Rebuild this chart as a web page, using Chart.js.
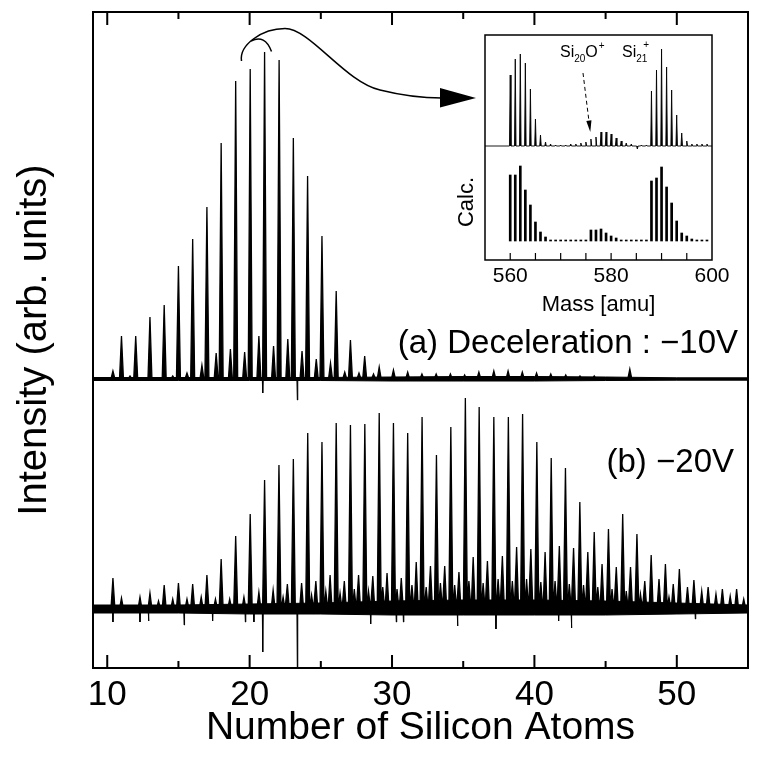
<!DOCTYPE html>
<html>
<head>
<meta charset="utf-8">
<script src="https://cdn.jsdelivr.net/npm/chart.js@4.4.1/dist/chart.umd.min.js"></script>
<style>
  body { margin: 0; background: #fff; }
  #wrap { position: relative; width: 762px; height: 766px; }
  #main { position: absolute; left: 0; top: 0; }
  #inset { position: absolute; left: 440px; top: 28px; }
</style>
</head>
<body>
<div id="wrap">
  <canvas id="main" width="762" height="766"></canvas>
  <canvas id="inset" width="310" height="295"></canvas>
</div>
<script>
const FONT = "'Liberation Sans', Arial, Helvetica, sans-serif";

// x axis (number of Si atoms)
const xTickLabels = [10, 20, 30, 40, 50];
const xMinorTicks = [15, 25, 35, 45];

// baselines of the two stacked spectra (arb. units)
const BASE_A = 289;
const BASE_B = 59;

// (a) -10 V : Si_n+ peaks
const mainPosA = [10.4, 11, 12, 13, 14, 15, 16, 17, 18, 19.02, 20.04, 21.05, 22.07, 23.07, 24.07, 25.08, 26.08, 27.08, 28.08,
  29.1, 30.1, 31.1, 32.1, 33.1, 34.1, 35.1, 36.1, 37.15, 38.15, 39.15, 40.15, 41.15, 42.2, 43.2, 44.2, 46.7];
const mainHtA = [8, 43, 43, 62, 74, 113, 140, 172, 236, 298, 310, 327, 319, 241, 203, 143, 88, 39, 23,
  12, 9, 7, 5, 5, 5, 4, 7, 8, 8, 7, 6, 5, 4, 3, 3, 10];
// (a) oxide satellites
const satPosA = [11.6, 14.6, 15.6, 16.65, 17.65, 18.65, 19.65, 20.65, 21.68, 22.68, 23.68, 24.68, 25.68, 26.68, 27.68, 28.7];
const satHtA = [3, 3, 6, 14, 26, 30, 27, 43, 33, 40, 28, 20, 16, 7, 6, 5];
// (a) negative glitches
const dipPosA = [20.92, 23.35];
const dipHtA = [-14, -21];

// (b) -20 V : Si_n+ peaks
const mainPosB = [10.4, 11, 12.3, 13, 14, 15, 16, 17, 18, 19.02, 20.04, 21.05, 22.06, 23.07, 24.08, 25.08, 26.08, 27.08,
  28.09, 29.1, 30.1, 31.1, 32.11, 33.12, 34.13, 35.15, 36.12, 37.15, 38.17, 39.17, 40.17, 41.18, 42.18, 43.19,
  44.2, 45.2, 46.2, 47.2, 48.2, 49.2, 50.18, 51.2, 52.2, 53.2, 54.2];
const mainHtB = [31, 11, 12, 16, 24, 26, 25, 34, 50, 73, 95, 129, 144, 150, 176, 167, 186, 184,
  185, 196, 186, 176, 192, 154, 182, 211, 202, 192, 192, 195, 167, 151, 141, 107,
  77, 80, 95, 75, 54, 45, 40, 29, 22, 20, 20];
// (b) oxide satellites
const satPosB = [13.6, 14.6, 15.6, 16.6, 17.6, 18.6, 19.6, 20.65, 21.65, 22.65, 23.65, 24.65, 25.65, 26.65, 27.65,
  28.65, 29.65, 30.65, 31.7, 32.7, 33.7, 34.7, 35.7, 36.7, 37.75, 38.75, 39.75, 40.75, 41.75, 42.75, 43.75,
  44.75, 45.75, 46.75, 47.75, 48.75, 49.75, 50.75, 51.75, 52.75, 53.75, 54.7];
const satHtB = [8, 10, 10, 12, 10, 10, 12, 17, 19, 25, 26, 28, 34, 28, 34,
  33, 36, 31, 47, 43, 43, 37, 52, 48, 53, 62, 60, 57, 63, 61, 57,
  45, 42, 42, 28, 30, 25, 22, 18, 15, 13, 10];
// (b) smaller in-between peaks
const minorPosB = [22.35, 24.35, 25.35, 26.35, 27.35, 28.35, 29.35, 30.35, 31.4, 32.4, 33.4, 34.4, 35.4, 36.4, 37.45,
  38.45, 39.45, 40.45, 41.45, 42.45, 43.45, 44.45, 45.45, 46.45, 47.45, 49.45];
const minorHtB = [12, 14, 18, 16, 20, 18, 22, 20, 24, 22, 26, 24, 28, 26, 30,
  28, 30, 27, 28, 25, 24, 22, 20, 18, 15, 12];
// (b) negative glitches
const dipPosB = [10.4, 12.3, 12.9, 15.4, 17.4, 19.7, 20.3, 20.92, 23.35, 28.5, 30.3, 30.8, 34.6, 37.3, 41.7, 42.6, 51.3];
const dipHtB = [-13, -13, -12, -16, -12, -13, -13, -43, -62, -15, -13, -13, -17, -20, -12, -19, -10];

// noise envelope of each trace
const noiseX = [9, 15, 20, 25, 30, 35, 40, 45, 50, 55];
const noiseHiA = [1.5, 1.5, 1.5, 1.5, 2, 2.5, 2.5, 2, 1.2, 1.2];
const noiseLoA = [-1.5, -1.5, -1.5, -1.5, -2, -2, -2, -1.5, -1.2, -1.2];
const noiseHiB = [4, 4, 5, 6, 8, 9, 9, 8, 6, 4];
const noiseLoB = [-4, -4, -5, -5, -6, -6, -6, -6, -5, -4];

// inset: mass axis
const insetLabels = [560, 580, 600];
const insetTicks = [560, 565, 570, 575, 580, 585, 590, 595];
const EXP_BASE = 114;
const CALC_BASE = 19;
const expMass = [560, 561, 562, 563, 564, 565, 566, 567, 568, 569, 570, 571, 572, 573, 574, 575, 576, 577, 578, 579,
  580, 581, 582, 583, 584, 585.2, 586, 587, 588, 589, 590, 591, 592, 593, 594, 595, 596, 597, 598, 599];
const expHt = [71, 87, 92, 83, 57, 27, 11, 4, 2, 1, 1, 1, 2, 2, 3, 4, 7, 9, 14, 14,
  12, 8, 5, 3, 2, -3, 1, 1, 55, 76, 97, 79, 56, 31, 13, 5, 2, 2, 2, 2];
const calcMass = [560, 561, 562, 563, 564, 565, 566, 567, 568, 569, 570, 571, 572, 573, 574, 575, 576, 577, 578, 579,
  580, 581, 582, 583, 584, 585, 586, 587, 588, 589, 590, 591, 592, 593, 594, 595, 596, 597, 598, 599];
const calcHt = [66, 66, 75, 51, 36, 19, 9, 4, 1, 1, 1, 1, 1, 1, 1, 1, 11, 11, 12, 8,
  5, 3, 1, 1, 1, 1, 1, 1, 60, 63, 74, 54, 38, 20, 8, 5, 2, 1, 1, 1];

// turn a list of peaks into a spike outline sitting on a baseline
function spikes(pos, ht, base, w) {
  const pts = [];
  pos.forEach((p, i) => {
    pts.push({ x: p - w, y: base }, { x: p, y: base + ht[i] }, { x: p + w, y: base });
  });
  return pts;
}
function mergePeaks(posList, htList) {
  const all = [];
  posList.forEach((pos, k) => pos.forEach((p, i) => all.push([p, htList[k][i]])));
  all.sort((a, b) => a[0] - b[0]);
  return [all.map(d => d[0]), all.map(d => d[1])];
}
function band(xs, vals, base) {
  return xs.map((v, i) => ({ x: v, y: base + vals[i] }));
}

const trace = (data, base, lw) => ({
  data, borderColor: '#000', backgroundColor: '#000', borderWidth: lw || 1,
  pointRadius: 0, tension: 0, fill: { value: base }
});

const [pkPosA, pkHtA] = mergePeaks([mainPosA, satPosA], [mainHtA, satHtA]);
const [pkPosB, pkHtB] = mergePeaks([mainPosB, satPosB, minorPosB], [mainHtB, satHtB, minorHtB]);

const frameDeco = {
  id: 'frameDeco',
  afterDatasetsDraw(chart) {
    const { ctx, chartArea: a, scales: { x, y } } = chart;
    ctx.save();
    ctx.strokeStyle = '#000';
    ctx.lineWidth = 2;
    ctx.strokeRect(a.left, a.top, a.right - a.left, a.bottom - a.top);
    const tick = (v, len) => {
      const px = x.getPixelForValue(v);
      ctx.beginPath();
      ctx.moveTo(px, a.bottom); ctx.lineTo(px, a.bottom - len);
      ctx.moveTo(px, a.top); ctx.lineTo(px, a.top + len);
      ctx.stroke();
    };
    xTickLabels.forEach(v => tick(v, 13));
    xMinorTicks.forEach(v => tick(v, 7));

    // trace labels
    ctx.fillStyle = '#000';
    ctx.font = '33px ' + FONT;
    ctx.textAlign = 'right';
    ctx.textBaseline = 'middle';
    ctx.fillText('(a) Deceleration : \u221210V', a.right - 10, y.getPixelForValue(BASE_A + 35));
    ctx.fillText('(b) \u221220V', a.right - 14, y.getPixelForValue(BASE_B + 146));

    // curved arrow pointing to the inset
    ctx.lineWidth = 1.5;
    ctx.beginPath();
    ctx.moveTo(241.5, 61);
    ctx.bezierCurveTo(239, 45, 262, 28.5, 285, 28.5);
    ctx.bezierCurveTo(310, 28.5, 345, 82, 380, 90);
    ctx.bezierCurveTo(400, 95, 420, 98, 442, 98);
    ctx.stroke();
    ctx.beginPath();
    ctx.moveTo(251, 41);
    ctx.quadraticCurveTo(265, 34, 271.5, 51.5);
    ctx.stroke();
    ctx.beginPath();
    ctx.moveTo(440, 88); ctx.lineTo(476, 98); ctx.lineTo(440, 107.5);
    ctx.closePath();
    ctx.fill();
    ctx.restore();
  }
};

new Chart(document.getElementById('main'), {
  type: 'line',
  data: {
    datasets: [
      trace(band(noiseX, noiseHiA, BASE_A), BASE_A),
      trace(band(noiseX, noiseLoA, BASE_A), BASE_A),
      trace(spikes(pkPosA, pkHtA, BASE_A, 0.14), BASE_A, 1.3),
      trace(spikes(dipPosA, dipHtA, BASE_A, 0.03), BASE_A),
      trace(band(noiseX, noiseHiB, BASE_B), BASE_B),
      trace(band(noiseX, noiseLoB, BASE_B), BASE_B),
      trace(spikes(pkPosB, pkHtB, BASE_B, 0.14), BASE_B, 1.3),
      trace(spikes(dipPosB, dipHtB, BASE_B, 0.03), BASE_B)
    ]
  },
  options: {
    responsive: false,
    animation: false,
    layout: { padding: { left: 0, top: 12, right: 14, bottom: 0 } },
    plugins: { legend: { display: false }, tooltip: { enabled: false } },
    scales: {
      x: {
        type: 'linear', min: 9, max: 55,
        grid: { display: false, drawTicks: false },
        border: { display: false },
        afterBuildTicks: (s) => { s.ticks = xTickLabels.map(v => ({ value: v })); },
        afterFit: (s) => { s.height = 98; },
        ticks: { font: { family: FONT, size: 35 }, color: '#000', padding: 6, maxRotation: 0 },
        title: {
          display: true, text: 'Number of Silicon Atoms', color: '#000',
          font: { family: FONT, size: 39 }, padding: { top: 0, bottom: 14 }
        }
      },
      y: {
        min: 0, max: 656,
        grid: { display: false, drawTicks: false },
        border: { display: false },
        ticks: { display: false },
        afterFit: (s) => { s.width = 93; },
        title: {
          display: true, text: 'Intensity (arb. units)', color: '#000',
          font: { family: FONT, size: 40 }, padding: { top: 11, bottom: 0 }
        }
      }
    }
  },
  plugins: [frameDeco]
});

// ---------- inset ----------
const insetDeco = {
  id: 'insetDeco',
  afterDatasetsDraw(chart) {
    const { ctx, chartArea: a, scales: { x } } = chart;
    ctx.save();
    ctx.strokeStyle = '#000';
    ctx.fillStyle = '#000';
    ctx.lineWidth = 1.5;
    ctx.strokeRect(a.left, a.top, a.right - a.left, a.bottom - a.top);
    ctx.lineWidth = 1.2;
    insetTicks.forEach(v => {
      const px = x.getPixelForValue(v);
      ctx.beginPath(); ctx.moveTo(px, a.bottom); ctx.lineTo(px, a.bottom - 7); ctx.stroke();
    });

    // ion labels with sub/superscripts
    ctx.textAlign = 'left';
    ctx.textBaseline = 'alphabetic';
    const big = '16px ' + FONT, small = '10px ' + FONT;
    let cx = 120;
    const put = (t, f, yb) => { ctx.font = f; ctx.fillText(t, cx, yb); cx += ctx.measureText(t).width; };
    put('Si', big, 29); put('20', small, 34); put('O', big, 29); cx += 1; put('+', small, 21);
    cx = 182;
    put('Si', big, 29);
    const subX = cx;
    put('21', small, 34);
    cx = subX + 7;
    put('+', small, 20);

    // dashed arrow to the oxide peaks
    const x0 = 143, y0 = 45, tx = 150.3, ty = 104;
    const len = Math.hypot(tx - x0, ty - y0), ux = (tx - x0) / len, uy = (ty - y0) / len;
    const bx = tx - ux * 11.5, by = ty - uy * 11.5;
    ctx.lineWidth = 1;
    ctx.setLineDash([4, 3]);
    ctx.beginPath(); ctx.moveTo(x0, y0); ctx.lineTo(bx, by); ctx.stroke();
    ctx.setLineDash([]);
    ctx.beginPath();
    ctx.moveTo(tx, ty);
    ctx.lineTo(bx - uy * 2.6, by + ux * 2.6);
    ctx.lineTo(bx + uy * 2.6, by - ux * 2.6);
    ctx.closePath(); ctx.fill();

    // "Calc." label for the lower half
    ctx.font = '22px ' + FONT;
    ctx.textAlign = 'center';
    ctx.textBaseline = 'middle';
    ctx.translate(27, 174);
    ctx.rotate(-Math.PI / 2);
    ctx.fillText('Calc.', 0, 0);
    ctx.restore();
  }
};

const expPoints = [{ x: 555, y: EXP_BASE }, ...spikes(expMass, expHt, EXP_BASE, 0.15), { x: 600, y: EXP_BASE }];

new Chart(document.getElementById('inset'), {
  type: 'line',
  data: {
    datasets: [
      {
        type: 'line', data: expPoints, borderColor: '#000', backgroundColor: '#000', borderWidth: 0.9,
        pointRadius: 0, tension: 0, fill: { value: EXP_BASE }
      },
      {
        type: 'bar', backgroundColor: '#000', barThickness: 2, grouped: false,
        data: calcMass.map((m, i) => ({ x: m, y: [CALC_BASE, CALC_BASE + calcHt[i]] }))
      }
    ]
  },
  options: {
    responsive: false,
    animation: false,
    layout: { padding: { left: 45, top: 7, right: 38, bottom: 0 } },
    plugins: { legend: { display: false }, tooltip: { enabled: false } },
    scales: {
      x: {
        type: 'linear', min: 555, max: 600, offset: false,
        grid: { display: false, drawTicks: false, offset: false },
        border: { display: false },
        afterBuildTicks: (s) => { s.ticks = insetLabels.map(v => ({ value: v })); },
        afterFit: (s) => { s.height = 63; },
        ticks: { font: { family: FONT, size: 21 }, color: '#000', padding: 4, maxRotation: 0 },
        title: {
          display: true, text: 'Mass [amu]', color: '#000',
          font: { family: FONT, size: 22 }, padding: { top: 0, bottom: 5 }
        }
      },
      y: { display: false, min: 0, max: 225 }
    }
  },
  plugins: [insetDeco]
});
</script>
</body>
</html>
